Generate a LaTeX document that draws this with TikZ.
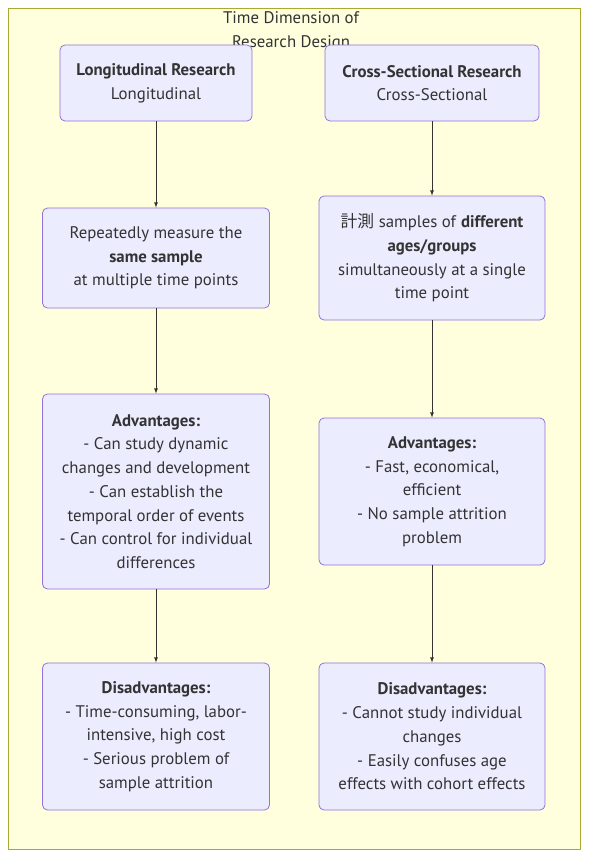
\documentclass[tikz,border=0pt]{standalone}
\usepackage{fontspec}
\setmainfont{PT Sans}
\newfontfamily\cjk{Noto Sans CJK JP}
\usepackage{tikz}
\usetikzlibrary{calc}
\usetikzlibrary{shapes}
\usetikzlibrary{arrows}
\usetikzlibrary{backgrounds}

\definecolor{clusterfill}{HTML}{FFFFDE}
\definecolor{clusterline}{HTML}{AAAA33}
\definecolor{boxfill}{HTML}{ECECFF}
\definecolor{boxline}{HTML}{9370DB}
\definecolor{ink}{HTML}{333333}

\tikzset{
  box/.style={draw=boxline, fill=boxfill, rounded corners=5pt, line width=0.8pt,
    text=ink, align=center, inner sep=0pt, font=\fontsize{16.8}{23.7}\selectfont},
  flow/.style={->, >=latex, draw=ink, line width=0.8pt}
}

\begin{document}
\begin{tikzpicture}[x=1pt, y=-1pt]
        \useasboundingbox (0,0) rectangle (596,868);
        \draw [fill=clusterfill, draw=clusterline, line width=0.8pt] (8,8) rectangle (580,849);
        \node (title) at (291,31) [text=ink, align=center, font=\fontsize{16.8}{23.7}\selectfont]
            {Time Dimension of\\Research Design};

        \node (lonhead) at (156,83) [box, minimum width=192pt, minimum height=76pt]
            {\textbf{Longitudinal Research}\\Longitudinal};
        \node (crohead) at (432,83) [box, minimum width=214pt, minimum height=76pt]
            {\textbf{Cross-Sectional Research}\\Cross-Sectional};

        \node (lonmethod) at (156,258) [box, minimum width=227pt, minimum height=100pt]
            {Repeatedly measure the\\\textbf{same sample}\\at multiple time points};
        \node (cromethod) at (432,258) [box, minimum width=226pt, minimum height=124pt]
            {{\cjk 計測} samples of \textbf{different}\\\textbf{ages/groups}\\simultaneously at a single\\time point};

        \node (lonpro) at (156,491.5) [box, minimum width=227pt, minimum height=195pt]
            {\textbf{Advantages:}\\- Can study dynamic\\changes and development\\- Can establish the\\temporal order of events\\- Can control for individual\\differences};
        \node (cropro) at (432,491.5) [box, minimum width=226pt, minimum height=147pt]
            {\textbf{Advantages:}\\- Fast, economical,\\efficient\\- No sample attrition\\problem};

        \node (loncon) at (156,736.5) [box, minimum width=227pt, minimum height=147pt]
            {\textbf{Disadvantages:}\\- Time-consuming, labor-\\intensive, high cost\\- Serious problem of\\sample attrition};
        \node (crocon) at (432,736.5) [box, minimum width=226pt, minimum height=147pt]
            {\textbf{Disadvantages:}\\- Cannot study individual\\changes\\- Easily confuses age\\effects with cohort effects};

        \draw [flow] (lonhead) -- (lonmethod);
        \draw [flow] (lonmethod) -- (lonpro);
        \draw [flow] (lonpro) -- (loncon);
        \draw [flow] (crohead) -- (cromethod);
        \draw [flow] (cromethod) -- (cropro);
        \draw [flow] (cropro) -- (crocon);
    \end{tikzpicture}
\end{document}
